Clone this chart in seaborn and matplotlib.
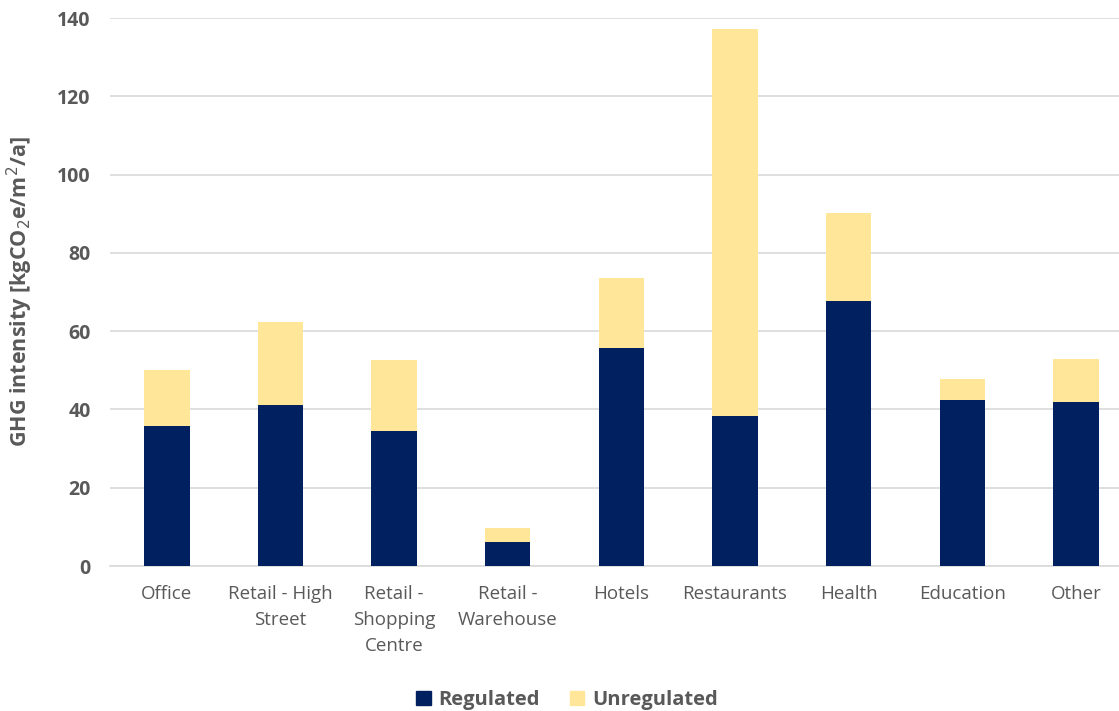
import matplotlib
matplotlib.use("Agg")
import matplotlib.pyplot as plt
import matplotlib.patches as mpatches
import numpy as np
import pandas as pd
import seaborn as sns

# Building categories and their GHG intensities (kgCO2e/m2/a)
categories = [
    "Office",
    "Retail - High\nStreet",
    "Retail -\nShopping\nCentre",
    "Retail -\nWarehouse",
    "Hotels",
    "Restaurants",
    "Health",
    "Education",
    "Other",
]
regulated = [35.8, 41.1, 34.6, 6.2, 55.7, 38.3, 67.7, 42.5, 41.8]
unregulated = [14.2, 21.3, 18.0, 3.4, 17.9, 98.9, 22.4, 5.4, 11.0]
y_ticks = [0, 20, 40, 60, 80, 100, 120, 140]

NAVY = "#002060"
GOLD = "#FFE699"
TEXT = "#595959"
GRID = "#D9D9D9"

sns.set_theme(style="white")
plt.rcParams["font.family"] = ["Open Sans", "DejaVu Sans"]

df = pd.DataFrame({
    "category": categories,
    "Regulated": regulated,
    "Unregulated": unregulated,
})
df["total"] = df["Regulated"] + df["Unregulated"]

fig = plt.figure(figsize=(11.19, 7.11), dpi=100)
ax = fig.add_axes([0.0983, 0.2039, 0.914, 0.7707])

# Stacked bars: full height in gold, regulated share drawn over it in navy
sns.barplot(data=df, x="category", y="total", color=GOLD, width=0.4,
            saturation=1, linewidth=0, ax=ax, zorder=3)
sns.barplot(data=df, x="category", y="Regulated", color=NAVY, width=0.4,
            saturation=1, linewidth=0, ax=ax, zorder=4)

ax.set_ylim(0, 140)
ax.set_yticks(y_ticks)
ax.set_yticklabels([str(v) for v in y_ticks], fontsize=14, fontweight="bold",
                   color=TEXT)
ax.tick_params(axis="y", length=0, pad=14)
ax.tick_params(axis="x", length=0, pad=14)
for lbl in ax.get_xticklabels():
    lbl.set_fontsize(13.5)
    lbl.set_color(TEXT)
    lbl.set_linespacing(1.55)
    lbl.set_verticalalignment("top")

ax.yaxis.grid(True, color=GRID, linewidth=1.2, zorder=0)
ax.set_axisbelow(True)
for side in ["top", "right", "left"]:
    ax.spines[side].set_visible(False)
ax.spines["bottom"].set_color(GRID)
ax.spines["bottom"].set_linewidth(1.2)

ax.set_xlabel("")
ax.set_ylabel("GHG intensity [kgCO$_2$e/m$^2$/a]", fontsize=15.5,
              fontweight="bold", color=TEXT)
ax.yaxis.set_label_coords(-0.073, 0.5)

handles = [
    mpatches.Patch(color=NAVY, label="Regulated"),
    mpatches.Patch(color=GOLD, label="Unregulated"),
]
leg = fig.legend(handles=handles, loc="center", bbox_to_anchor=(0.507, 0.015),
                 ncol=2, frameon=False, handlelength=0.7, handleheight=0.7,
                 handletextpad=0.4, columnspacing=1.5,
                 prop={"size": 14.5, "weight": "bold"})
for t in leg.get_texts():
    t.set_color(TEXT)

fig.savefig("out.png", dpi=100)
